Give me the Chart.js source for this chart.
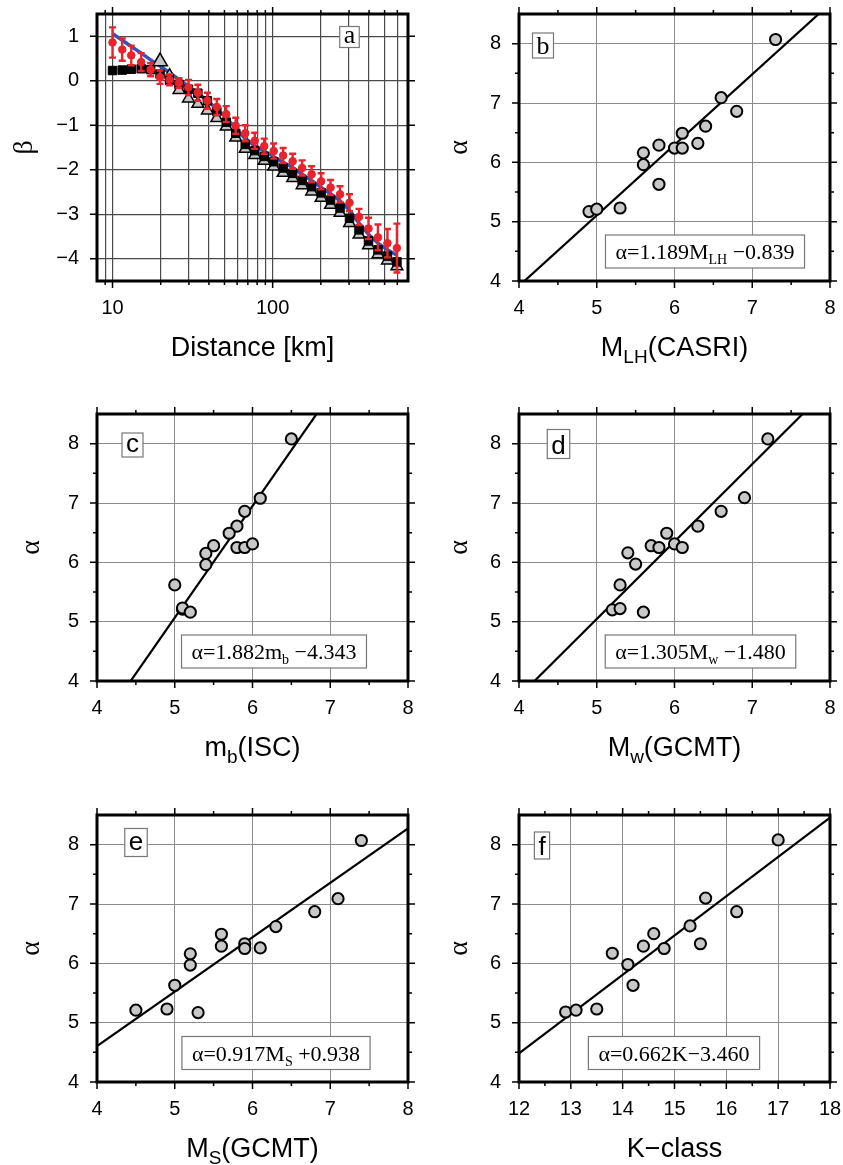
<!DOCTYPE html>
<html>
<head>
<meta charset="utf-8">
<script src="https://cdn.jsdelivr.net/npm/chart.js@4.4.1/dist/chart.umd.min.js"></script>
<style>
  body { margin: 0; background: #fff; }
  #fig { position: relative; width: 843px; height: 1165px; background: #fff; }
  #fig canvas { position: absolute; }
</style>
</head>
<body>
<div id="fig"></div>
<script>
// ---- panel a: beta vs distance ----
const distanceKm = [10, 11.5, 13.1, 15.1, 17.3, 19.8, 22.7, 26.0, 29.8, 34.1, 39.1, 44.8, 51.3, 58.8, 67.4, 77.3,
  88.6, 101.5, 116.3, 133.3, 152.8, 175.1, 200.7, 229.9, 263.5, 302.0, 346.1, 396.7, 454.6, 521.0, 597.0];
const betaObserved = [0.86, 0.70, 0.57, 0.42, 0.25, 0.08, 0.02, -0.05, -0.15, -0.27, -0.45, -0.59, -0.75, -1.01, -1.18, -1.35,
  -1.47, -1.58, -1.68, -1.81, -1.96, -2.10, -2.26, -2.40, -2.55, -2.74, -3.06, -3.32, -3.52, -3.65, -3.76];
const betaError = [0.34, 0.25, 0.22, 0.20, 0.15, 0.15, 0.12, 0.11, 0.17, 0.18, 0.18, 0.18, 0.18, 0.18, 0.18, 0.18,
  0.17, 0.17, 0.17, 0.17, 0.17, 0.18, 0.18, 0.17, 0.18, 0.19, 0.18, 0.24, 0.29, 0.32, 0.55];
const betaSquare = [0.23, 0.24, 0.26, 0.27, 0.25, 0.15, 0.01, -0.08, -0.19, -0.28, -0.45, -0.69, -0.93, -1.18, -1.43, -1.57,
  -1.70, -1.82, -1.96, -2.08, -2.24, -2.38, -2.52, -2.68, -2.86, -3.09, -3.35, -3.60, -3.80, -3.94, -4.07];
const betaTriangle = [null, null, null, null, null, 0.43, 0.18, -0.21, -0.40, -0.52, -0.67, -0.84, -1.03, -1.28, -1.53, -1.67,
  -1.80, -1.93, -2.07, -2.19, -2.35, -2.49, -2.63, -2.79, -2.97, -3.20, -3.46, -3.70, -3.90, -4.04, -4.17];
const betaModel = [1.06, 0.91, 0.77, 0.62, 0.47, 0.33, 0.18, 0.03, -0.12, -0.28, -0.45, -0.63, -0.83, -1.07, -1.30, -1.46,
  -1.58, -1.71, -1.83, -1.95, -2.10, -2.24, -2.40, -2.54, -2.70, -2.91, -3.20, -3.45, -3.65, -3.80, -3.92];
const distanceGrid = [9, 10, 20, 30, 40, 50, 60, 70, 80, 90, 100, 200, 300, 400, 500, 600];
const distanceLabels = [10, 100];
const betaTicks = [-4, -3, -2, -1, 0, 1];

// ---- panels b-f: alpha vs magnitudes ----
const magLH = [4.9, 5.0, 5.3, 5.6, 5.6, 5.8, 5.8, 6.0, 6.1, 6.1, 6.3, 6.4, 6.6, 6.8, 7.3];
const alphaLH = [5.17, 5.21, 5.23, 6.16, 5.96, 6.29, 5.63, 6.24, 6.49, 6.24, 6.32, 6.61, 7.09, 6.86, 8.07];
const magMb = [6.5, 6.1, 5.9, 5.8, 5.7, 5.5, 5.4, 5.4, 5.8, 5.9, 6.0, 5.0, 5.1, 5.1, 5.2];
const alphaMb = [8.08, 7.08, 6.86, 6.61, 6.49, 6.28, 6.15, 5.96, 6.25, 6.25, 6.31, 5.62, 5.21, 5.23, 5.16];
const magMw = [7.2, 6.9, 6.6, 6.3, 5.9, 5.7, 5.8, 6.0, 6.1, 5.4, 5.5, 5.3, 5.2, 5.3, 5.6];
const alphaMw = [8.08, 7.09, 6.86, 6.61, 6.49, 6.28, 6.25, 6.31, 6.25, 6.16, 5.97, 5.62, 5.20, 5.22, 5.16];
const magMs = [7.4, 7.1, 6.8, 6.3, 5.6, 5.6, 5.9, 5.9, 6.1, 5.2, 5.2, 5.0, 4.5, 4.9, 5.3];
const alphaMs = [8.07, 7.09, 6.87, 6.62, 6.49, 6.29, 6.33, 6.25, 6.26, 6.16, 5.97, 5.63, 5.21, 5.23, 5.17];
const kClass = [17.0, 15.6, 16.2, 15.3, 15.5, 14.6, 14.4, 14.8, 13.8, 14.1, 14.2, 12.9, 13.1, 13.5];
const alphaK = [8.08, 7.10, 6.87, 6.63, 6.33, 6.50, 6.29, 6.25, 6.17, 5.98, 5.63, 5.18, 5.21, 5.23];

// fit coefficients [slope, intercept]
const fitLH = [1.189, -0.839];
const fitMb = [1.882, -4.343];
const fitMw = [1.305, -1.480];
const fitMs = [0.917, 0.938];
const fitK = [0.662, -3.460];

const alphaTicks = [4, 5, 6, 7, 8];
const magTicks = [4, 5, 6, 7, 8];
const kTicks = [12, 13, 14, 15, 16, 17, 18];

const SANS = '"Liberation Sans", Arial, Helvetica, sans-serif';
const SERIF = '"Liberation Serif", "Times New Roman", Times, serif';
const fig = document.getElementById('fig');
const half = arr => arr.slice(0, -1).map(v => v + 0.5);
const minus = v => (v < 0 ? '\u2212' + Math.abs(v) : String(v));

function richText(ctx, parts, x, y, size, family, subScale, subShift) {
  const subSize = Math.round(size * subScale);
  let total = 0;
  const widths = parts.map(p => {
    ctx.font = (p.sub ? subSize : size) + 'px ' + family;
    const w = ctx.measureText(p.t).width;
    total += w;
    return w;
  });
  let cx = x - total / 2;
  ctx.textAlign = 'left';
  ctx.textBaseline = 'alphabetic';
  parts.forEach((p, i) => {
    ctx.font = (p.sub ? subSize : size) + 'px ' + family;
    ctx.fillText(p.t, cx, p.sub ? y + subShift : y);
    cx += widths[i];
  });
  return total;
}

function richWidth(ctx, parts, size, family, subScale) {
  let total = 0;
  parts.forEach(p => {
    ctx.font = (p.sub ? Math.round(size * subScale) : size) + 'px ' + family;
    total += ctx.measureText(p.t).width;
  });
  return total;
}

function drawErrorBars(chart) {
  const { ctx } = chart;
  const xs = chart.scales.x, ys = chart.scales.y;
  ctx.save();
  ctx.strokeStyle = '#e8232b';
  ctx.lineWidth = 2.4;
  ctx.beginPath();
  distanceKm.forEach((d, i) => {
    const px = xs.getPixelForValue(d);
    const y1 = ys.getPixelForValue(betaObserved[i] + betaError[i]);
    const y2 = ys.getPixelForValue(betaObserved[i] - betaError[i]);
    ctx.moveTo(px, y1); ctx.lineTo(px, y2);
    ctx.moveTo(px - 3.5, y1); ctx.lineTo(px + 3.5, y1);
    ctx.moveTo(px - 3.5, y2); ctx.lineTo(px + 3.5, y2);
  });
  ctx.stroke();
  ctx.restore();
}

function decor(p) {
  return {
    id: 'decor',
    beforeDatasetDraw(chart, args) {
      if (p.errorBars && args.index === 0) drawErrorBars(chart);
    },
    afterDraw(chart) {
      const { ctx, chartArea: a } = chart;
      const xs = chart.scales.x, ys = chart.scales.y;
      ctx.save();
      // outward ticks on all four sides
      ctx.strokeStyle = '#000';
      ctx.lineWidth = 1.5;
      ctx.beginPath();
      const xt = (v, len) => {
        const px = xs.getPixelForValue(v);
        ctx.moveTo(px, a.bottom); ctx.lineTo(px, a.bottom + len);
        ctx.moveTo(px, a.top); ctx.lineTo(px, a.top - len);
      };
      const yt = (v, len) => {
        const py = ys.getPixelForValue(v);
        ctx.moveTo(a.left, py); ctx.lineTo(a.left - len, py);
        ctx.moveTo(a.right, py); ctx.lineTo(a.right + len, py);
      };
      p.xMajor.forEach(v => xt(v, 7));
      p.xMinor.forEach(v => xt(v, 4));
      p.yMajor.forEach(v => yt(v, 7));
      p.yMinor.forEach(v => yt(v, 4));
      ctx.stroke();
      // frame
      ctx.lineWidth = 3;
      ctx.strokeRect(a.left, a.top, a.right - a.left, a.bottom - a.top);

      ctx.fillStyle = '#000';
      // x title
      richText(ctx, p.xTitle, (a.left + a.right) / 2, a.bottom + 75, 27, SANS, 0.7, 7);
      // y title
      ctx.save();
      ctx.translate(a.left - p.yGap, (a.top + a.bottom) / 2);
      ctx.rotate(-Math.PI / 2);
      ctx.font = '28px ' + SERIF;
      ctx.textAlign = 'center';
      ctx.textBaseline = 'middle';
      ctx.fillText(p.yTitle, 0, 0);
      ctx.restore();

      // panel letter
      const lx = a.left + p.letterAt[0], ly = a.top + p.letterAt[1];
      ctx.font = '26px ' + p.letterFont;
      const m = ctx.measureText(p.letter);
      const bw = m.width + 8, bh = p.letterBox;
      ctx.fillStyle = '#fff';
      ctx.fillRect(lx - bw / 2, ly - bh / 2, bw, bh);
      ctx.strokeStyle = '#777';
      ctx.lineWidth = 1.2;
      ctx.strokeRect(lx - bw / 2, ly - bh / 2, bw, bh);
      ctx.fillStyle = '#000';
      ctx.textAlign = 'center';
      ctx.textBaseline = 'alphabetic';
      ctx.fillText(p.letter, lx, ly + (m.actualBoundingBoxAscent - m.actualBoundingBoxDescent) / 2);

      // equation box
      if (p.eq) {
        const ex = a.left + p.eqAt[0], ey = a.top + p.eqAt[1];
        const w = richWidth(ctx, p.eq, 22, SERIF, 0.62);
        ctx.fillStyle = '#fff';
        ctx.fillRect(ex - w / 2 - 10, ey - 16.5, w + 20, 33);
        ctx.strokeStyle = '#777';
        ctx.lineWidth = 1.2;
        ctx.strokeRect(ex - w / 2 - 10, ey - 16.5, w + 20, 33);
        ctx.fillStyle = '#000';
        richText(ctx, p.eq, ex, ey + 7.5, 22, SERIF, 0.62, 5);
      }
      ctx.restore();
    }
  };
}

function makePanel(p) {
  const W = p.L + 311 + p.R, H = p.T + 267 + p.B;
  const cv = document.createElement('canvas');
  cv.width = W; cv.height = H;
  cv.style.left = (p.left - p.L) + 'px';
  cv.style.top = (p.top - p.T) + 'px';
  cv.style.width = W + 'px';
  cv.style.height = H + 'px';
  fig.appendChild(cv);

  const tickFont = { family: SANS, size: 20 };
  new Chart(cv, {
    type: 'scatter',
    data: { datasets: p.datasets },
    options: {
      responsive: false,
      animation: false,
      events: [],
      layout: { padding: { left: 0, top: p.T, right: p.R, bottom: 0 } },
      plugins: { legend: { display: false }, tooltip: { enabled: false } },
      scales: {
        x: {
          type: p.xType,
          min: p.xMin, max: p.xMax,
          afterFit: s => { s.height = p.B; s.paddingLeft = 0; s.paddingRight = 0; },
          afterBuildTicks: s => { s.ticks = p.xGrid.map(v => ({ value: v })); },
          border: { display: false },
          grid: { color: p.gridColor, lineWidth: p.gridWidth, drawTicks: false },
          ticks: { color: '#000', font: tickFont, padding: 15, maxRotation: 0, autoSkip: false,
            callback: v => (p.xLabels.includes(v) ? String(v) : '') }
        },
        y: {
          min: p.yMin, max: p.yMax,
          afterFit: s => { s.width = p.L; s.paddingTop = 0; s.paddingBottom = 0; },
          afterBuildTicks: s => { s.ticks = p.yMajor.map(v => ({ value: v })); },
          border: { display: false },
          grid: { color: p.gridColor, lineWidth: p.gridWidth, drawTicks: false },
          ticks: { color: '#000', font: tickFont, padding: 18, autoSkip: false, callback: v => minus(v) }
        }
      }
    },
    plugins: [decor(p)]
  });
}

function scatterSet(xv, yv) {
  return {
    data: xv.map((x, i) => ({ x, y: yv[i] })),
    pointRadius: 5.6, pointBorderWidth: 2,
    pointBackgroundColor: '#c8c8c8', pointBorderColor: '#000'
  };
}
function fitSet(fit, x0, x1) {
  return {
    data: [{ x: x0, y: fit[0] * x0 + fit[1] }, { x: x1, y: fit[0] * x1 + fit[1] }],
    showLine: true, borderColor: '#000', borderWidth: 2.2, pointRadius: 0
  };
}

// panel a
const triIdx = betaTriangle.map((v, i) => (v === null ? -1 : i)).filter(i => i >= 0);
makePanel({
  left: 97, top: 14, L: 90, T: 14, R: 32, B: 90,
  xType: 'logarithmic', xMin: 8, xMax: 700, yMin: -4.5, yMax: 1.5,
  xGrid: distanceGrid, xLabels: distanceLabels,
  gridColor: '#4a4a4a', gridWidth: 1.2,
  xMajor: distanceLabels, xMinor: distanceGrid.filter(v => !distanceLabels.includes(v)),
  yMajor: betaTicks, yMinor: [],
  xTitle: [{ t: 'Distance [km]' }], yTitle: 'β', yGap: 72,
  letter: 'a', letterFont: SERIF, letterAt: [252.5, 23], letterBox: 21,
  errorBars: true,
  datasets: [
    { data: distanceKm.map((d, i) => ({ x: d, y: betaObserved[i] })),
      pointRadius: 3.8, pointBackgroundColor: '#e8232b', pointBorderColor: '#e8232b', pointBorderWidth: 1 },
    { data: distanceKm.map((d, i) => ({ x: d, y: betaSquare[i] })),
      pointStyle: 'rect', pointRadius: 6, pointBackgroundColor: '#000', pointBorderColor: '#000', pointBorderWidth: 1 },
    { data: triIdx.map(i => ({ x: distanceKm[i], y: betaTriangle[i] })),
      pointStyle: 'triangle',
      pointRadius: triIdx.map(i => (i === 5 ? 8.5 : i === 6 ? 4 : 6.8)),
      pointBackgroundColor: '#c4c4c4', pointBorderColor: '#000', pointBorderWidth: 1.5 },
    { data: distanceKm.map((d, i) => ({ x: d, y: betaModel[i] })),
      showLine: true, borderColor: '#3552b5', borderWidth: 3.5, pointRadius: 0 }
  ]
});

const magPanel = (o) => Object.assign({
  T: 14, R: 32, B: 90, xType: 'linear',
  yMin: 4, yMax: 8.5,
  gridColor: '#8c8c8c', gridWidth: 1,
  yMajor: alphaTicks, yMinor: half(alphaTicks),
  yTitle: 'α'
}, o);

makePanel(magPanel({
  left: 519, top: 14, L: 80, xMin: 4, xMax: 8, yGap: 59,
  xGrid: magTicks, xLabels: magTicks, xMajor: magTicks, xMinor: half(magTicks),
  xTitle: [{ t: 'M' }, { t: 'LH', sub: 1 }, { t: '(CASRI)' }],
  letter: 'b', letterFont: SERIF, letterAt: [24, 31.5], letterBox: 25,
  eq: [{ t: 'α=1.189M' }, { t: 'LH', sub: 1 }, { t: ' \u22120.839' }], eqAt: [186, 237.5],
  datasets: [scatterSet(magLH, alphaLH), fitSet(fitLH, 4, 8)]
}));

makePanel(magPanel({
  left: 97, top: 414, L: 90, xMin: 4, xMax: 8, yGap: 65,
  xGrid: magTicks, xLabels: magTicks, xMajor: magTicks, xMinor: half(magTicks),
  xTitle: [{ t: 'm' }, { t: 'b', sub: 1 }, { t: '(ISC)' }],
  letter: 'c', letterFont: SANS, letterAt: [35.5, 31], letterBox: 24,
  eq: [{ t: 'α=1.882m' }, { t: 'b', sub: 1 }, { t: ' \u22124.343' }], eqAt: [177, 237.5],
  datasets: [scatterSet(magMb, alphaMb), fitSet(fitMb, 4, 8)]
}));

makePanel(magPanel({
  left: 519, top: 414, L: 80, xMin: 4, xMax: 8, yGap: 59,
  xGrid: magTicks, xLabels: magTicks, xMajor: magTicks, xMinor: half(magTicks),
  xTitle: [{ t: 'M' }, { t: 'w', sub: 1 }, { t: '(GCMT)' }],
  letter: 'd', letterFont: SANS, letterAt: [39.5, 30], letterBox: 29,
  eq: [{ t: 'α=1.305M' }, { t: 'w', sub: 1 }, { t: ' \u22121.480' }], eqAt: [181.5, 237.5],
  datasets: [scatterSet(magMw, alphaMw), fitSet(fitMw, 4, 8)]
}));

makePanel(magPanel({
  left: 97, top: 815, L: 90, B: 83, xMin: 4, xMax: 8, yGap: 65,
  xGrid: magTicks, xLabels: magTicks, xMajor: magTicks, xMinor: half(magTicks),
  xTitle: [{ t: 'M' }, { t: 'S', sub: 1 }, { t: '(GCMT)' }],
  letter: 'e', letterFont: SANS, letterAt: [39, 27.5], letterBox: 28,
  eq: [{ t: 'α=0.917M' }, { t: 'S', sub: 1 }, { t: ' +0.938' }], eqAt: [179, 238],
  datasets: [scatterSet(magMs, alphaMs), fitSet(fitMs, 4, 8)]
}));

makePanel(magPanel({
  left: 519, top: 815, L: 80, B: 83, xMin: 12, xMax: 18, yGap: 59,
  xGrid: kTicks, xLabels: kTicks, xMajor: kTicks, xMinor: half(kTicks),
  xTitle: [{ t: 'K\u2212class' }],
  letter: 'f', letterFont: SANS, letterAt: [23, 30.5], letterBox: 27,
  eq: [{ t: 'α=0.662K\u22123.460' }], eqAt: [155, 238],
  datasets: [scatterSet(kClass, alphaK), fitSet(fitK, 12, 18)]
}));
</script>
</body>
</html>
